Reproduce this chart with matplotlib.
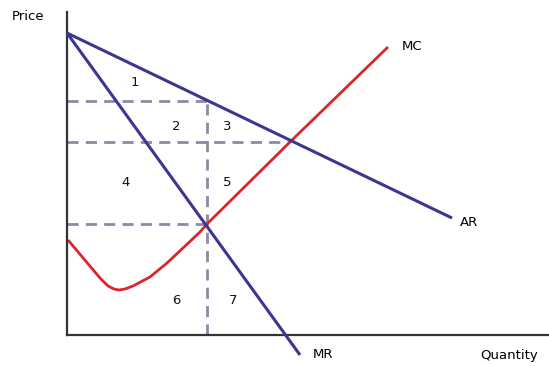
import matplotlib
matplotlib.use("Agg")
import matplotlib.pyplot as plt

# Data (in chart units: quantity from origin, price from origin)
ar_q = [0, 385]
ar_p = [302, 117]
mr_q = [0, 233]
mr_p = [302, -20]
mc_q = [1, 17, 33, 41, 47, 52, 58, 66, 83, 100, 116, 133, 140, 223, 321]
mc_p = [95, 76, 57, 49, 46, 45, 46, 49, 58, 72, 87, 103, 111, 193, 288]

q_mono = 140      # MR = MC
q_comp = 223      # AR = MC
p_mono = 234
p_comp = 193
p_mc = 111

region_labels = ["1", "2", "3", "4", "5", "6", "7"]
region_q = [68, 109, 160, 59, 160, 109, 166]
region_p = [253, 209, 209, 153, 153, 34, 34]

blue = "#3b3791"
red = "#d9262a"
dash = "#8d89a6"

plt.rcParams['font.family'] = ['DejaVu Sans']

fig = plt.figure(figsize=(5.49, 3.66), dpi=100)
W, H = 549, 366
ax = fig.add_axes([67 / W, (H - 335) / H, (549 - 67) / W, (335 - 12) / H])
ax.set_xlim(0, 482)
ax.set_ylim(0, 323)
for s in ["top", "right"]:
    ax.spines[s].set_visible(False)
for s in ["left", "bottom"]:
    ax.spines[s].set_color("#333333")
    ax.spines[s].set_linewidth(1.6)
ax.set_xticks([])
ax.set_yticks([])

dkw = dict(color=dash, lw=2.0, dashes=(4, 2.6), zorder=1)
ax.plot([0, q_mono], [p_mono, p_mono], **dkw)
ax.plot([0, q_comp], [p_comp, p_comp], **dkw)
ax.plot([0, q_mono], [p_mc, p_mc], **dkw)
ax.plot([q_mono, q_mono], [0, p_mono], **dkw)

ax.plot(mc_q, mc_p, color=red, lw=2.0, zorder=2, solid_capstyle="butt",
        solid_joinstyle="round")
ax.plot(ar_q, ar_p, color=blue, lw=2.2, zorder=3, solid_capstyle="butt")
ax.plot(mr_q, mr_p, color=blue, lw=2.2, zorder=3, clip_on=False, solid_capstyle="butt")

fs = 9.5
for lab, q, p in zip(region_labels, region_q, region_p):
    ax.text(q, p, lab, fontsize=fs, ha="center", va="center", color="#111111")

ax.text(335, 289, "MC", fontsize=fs, ha="left", va="center")
ax.text(393, 112, "AR", fontsize=fs, ha="left", va="center")
ax.text(246, -20, "MR", fontsize=fs, ha="left", va="center", clip_on=False)
ax.text(413, -20, "Quantity", fontsize=fs, ha="left", va="center", clip_on=False)
fig.text(12 / W, 1 - 17 / H, "Price", fontsize=fs, ha="left", va="center")

fig.savefig("out.png", dpi=100)
